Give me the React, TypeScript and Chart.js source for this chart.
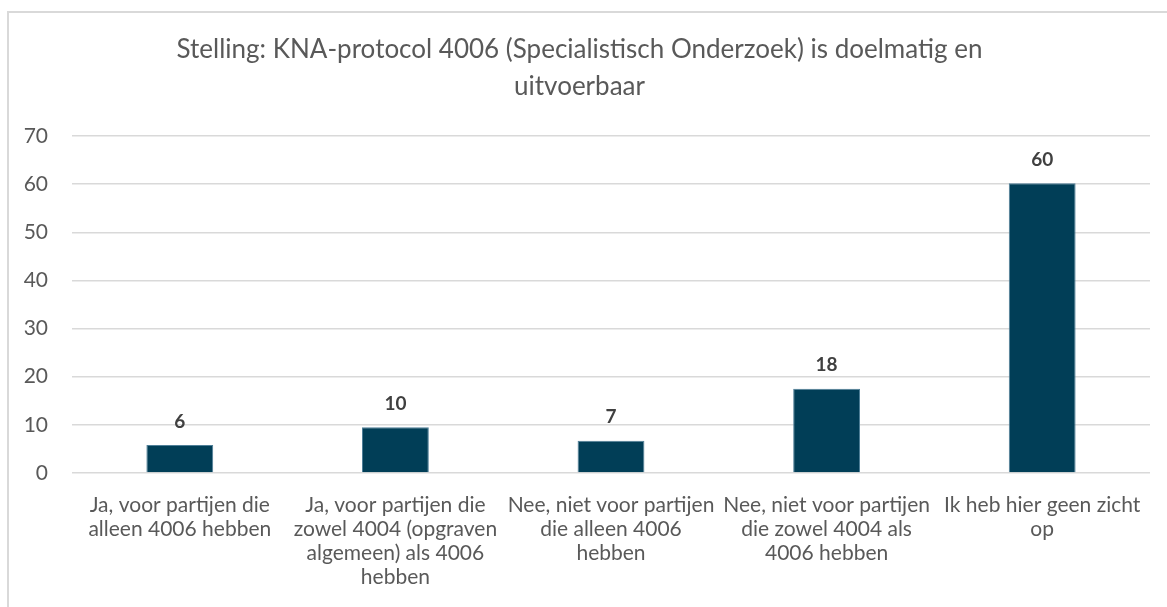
import React, { useEffect, useRef } from "react";
import { Chart, registerables } from "chart.js";

Chart.register(...registerables);

const titleLines = [
  "Stelling: KNA-protocol 4006 (Specialistisch Onderzoek) is doelmatig en",
  "uitvoerbaar",
];

const categories: string[][] = [
  ["Ja, voor partijen die", "alleen 4006 hebben"],
  ["Ja, voor partijen die", "zowel 4004 (opgraven", "algemeen) als 4006", "hebben"],
  ["Nee, niet voor partijen", "die alleen 4006", "hebben"],
  ["Nee, niet voor partijen", "die zowel 4004 als", "4006 hebben"],
  ["Ik heb hier geen zicht", "op"],
];

const values = [5.8, 9.5, 6.7, 17.5, 60.2];

const yMin = 0;
const yMax = 70;
const yStep = 10;

const FONT = "Lato, 'Open Sans', sans-serif";

const dataLabelPlugin = {
  id: "dataLabels",
  afterDatasetsDraw(chart: any) {
    const { ctx } = chart;
    const meta = chart.getDatasetMeta(0);
    ctx.save();
    ctx.font = `bold 19px ${FONT}`;
    ctx.fillStyle = "#404040";
    ctx.textAlign = "center";
    ctx.textBaseline = "bottom";
    meta.data.forEach((bar: any, i: number) => {
      ctx.fillText(String(Math.round(values[i])), bar.x, bar.y - 14);
    });
    ctx.restore();
  },
};

export default function App() {
  const ref = useRef<HTMLCanvasElement | null>(null);

  useEffect(() => {
    if (!ref.current) return;
    const chart = new Chart(ref.current, {
      type: "bar",
      data: {
        labels: categories,
        datasets: [
          {
            data: values,
            backgroundColor: "#013E57",
            borderColor: "#4f7f98",
            borderWidth: 1,
            categoryPercentage: 1,
            barPercentage: 0.31,
          },
        ],
      },
      options: {
        animation: false,
        responsive: false,
        maintainAspectRatio: false,
        layout: { padding: { left: 0, right: 17, top: 0, bottom: 0 } },
        plugins: {
          legend: { display: false },
          tooltip: { enabled: false },
          title: {
            display: true,
            text: titleLines,
            color: "#595959",
            font: { family: FONT, size: 26, weight: "normal", lineHeight: 37 / 26 },
            padding: { top: 18, bottom: 31 },
          },
        },
        scales: {
          x: {
            grid: { display: false },
            border: { display: false },
            ticks: {
              color: "#595959",
              font: { family: FONT, size: 21, lineHeight: 24 / 21 },
              maxRotation: 0,
              minRotation: 0,
              autoSkip: false,
              padding: 12,
            },
            afterFit(scale: any) {
              scale.height = 134;
            },
          },
          y: {
            min: yMin,
            max: yMax,
            border: { display: false },
            grid: { color: "#d9d9d9", lineWidth: 1.5, drawTicks: false },
            ticks: {
              stepSize: yStep,
              color: "#595959",
              font: { family: FONT, size: 21 },
              padding: 24,
            },
            afterFit(scale: any) {
              scale.width = 63;
            },
          },
        },
      },
      plugins: [dataLabelPlugin],
    });
    return () => chart.destroy();
  }, []);

  return (
    <div
      style={{
        position: "absolute",
        left: 7,
        top: 11,
        width: 1160,
        height: 596,
        borderLeft: "2px solid #d9d9d9",
        borderTop: "2px solid #d9d9d9",
        background: "#fff",
      }}
    >
      <canvas ref={ref} width={1158} height={594} style={{ display: "block" }} />
    </div>
  );
}
